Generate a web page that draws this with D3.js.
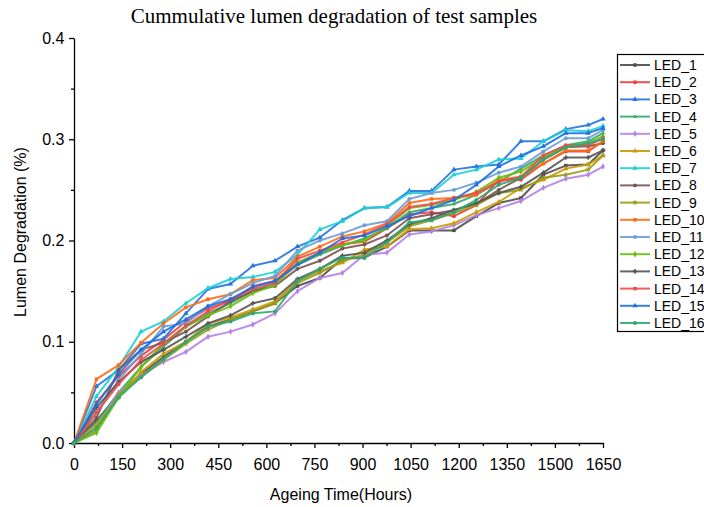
<!DOCTYPE html>
<html><head><meta charset="utf-8">
<script src="https://cdn.jsdelivr.net/npm/d3@7"></script>
<style>body{margin:0;background:#fff;} svg{display:block;}</style>
</head><body>
<svg id="c" width="704" height="507"></svg>
<script>
const hours = [0,70,139,209,279,349,418,488,558,627,697,767,837,906,976,1046,1115,1185,1255,1325,1394,1464,1534,1604,1650];
const seriesNames = ["LED_1","LED_2","LED_3","LED_4","LED_5","LED_6","LED_7","LED_8","LED_9","LED_10","LED_11","LED_12","LED_13","LED_14","LED_15","LED_16"];
const LED_1  = [0,0.022,0.048,0.068,0.085,0.100,0.115,0.122,0.130,0.138,0.155,0.163,0.182,0.183,0.194,0.210,0.210,0.210,0.224,0.237,0.242,0.265,0.274,0.275,0.289];
const LED_2  = [0,0.040,0.066,0.086,0.102,0.120,0.133,0.140,0.155,0.160,0.178,0.188,0.196,0.199,0.212,0.226,0.228,0.224,0.235,0.260,0.260,0.276,0.288,0.288,0.298];
const LED_3  = [0,0.056,0.072,0.098,0.103,0.128,0.152,0.157,0.175,0.180,0.194,0.203,0.220,0.232,0.233,0.249,0.249,0.270,0.273,0.275,0.298,0.298,0.310,0.314,0.320];
const LED_4  = [0,0.020,0.050,0.075,0.095,0.115,0.128,0.138,0.150,0.158,0.176,0.186,0.195,0.202,0.212,0.228,0.232,0.236,0.245,0.258,0.271,0.284,0.294,0.298,0.306];
const LED_5  = [0,0.015,0.050,0.067,0.080,0.090,0.105,0.110,0.117,0.128,0.150,0.163,0.168,0.186,0.188,0.206,0.209,0.215,0.225,0.232,0.239,0.252,0.261,0.265,0.273];
const LED_6  = [0,0.018,0.045,0.070,0.088,0.100,0.118,0.124,0.132,0.140,0.160,0.170,0.178,0.191,0.194,0.211,0.212,0.217,0.228,0.238,0.252,0.260,0.271,0.275,0.284];
const LED_7  = [0,0.046,0.075,0.110,0.120,0.138,0.153,0.162,0.164,0.169,0.186,0.211,0.219,0.232,0.233,0.247,0.247,0.265,0.270,0.280,0.281,0.298,0.309,0.308,0.313];
const LED_8  = [0,0.025,0.072,0.092,0.099,0.110,0.125,0.140,0.150,0.155,0.172,0.180,0.192,0.196,0.205,0.222,0.226,0.230,0.236,0.250,0.262,0.280,0.292,0.293,0.296];
const LED_9  = [0,0.012,0.048,0.065,0.082,0.098,0.112,0.122,0.130,0.138,0.158,0.168,0.180,0.186,0.198,0.214,0.220,0.227,0.235,0.247,0.250,0.262,0.265,0.270,0.284];
const LED_10 = [0,0.063,0.077,0.099,0.118,0.134,0.142,0.147,0.161,0.163,0.184,0.194,0.204,0.209,0.217,0.237,0.241,0.242,0.245,0.260,0.263,0.276,0.289,0.289,0.298];
const LED_11 = [0,0.030,0.062,0.088,0.115,0.118,0.135,0.147,0.158,0.165,0.190,0.200,0.207,0.215,0.219,0.241,0.247,0.250,0.257,0.267,0.273,0.288,0.301,0.301,0.309];
const LED_12 = [0,0.010,0.045,0.075,0.098,0.115,0.126,0.135,0.148,0.156,0.178,0.188,0.196,0.200,0.214,0.232,0.235,0.240,0.248,0.262,0.268,0.282,0.292,0.296,0.303];
const LED_13 = [0,0.035,0.060,0.080,0.092,0.105,0.118,0.126,0.138,0.143,0.162,0.172,0.185,0.188,0.200,0.216,0.222,0.230,0.237,0.247,0.253,0.267,0.282,0.282,0.289];
const LED_14 = [0,0.030,0.058,0.082,0.098,0.116,0.130,0.142,0.152,0.158,0.182,0.190,0.198,0.206,0.216,0.233,0.236,0.242,0.247,0.258,0.263,0.284,0.294,0.294,0.301];
const LED_15 = [0,0.038,0.068,0.092,0.110,0.122,0.135,0.142,0.154,0.160,0.176,0.188,0.202,0.205,0.214,0.224,0.232,0.240,0.255,0.273,0.284,0.293,0.306,0.306,0.311];
const LED_16 = [0,0.015,0.045,0.065,0.083,0.100,0.115,0.120,0.128,0.130,0.160,0.172,0.183,0.183,0.198,0.218,0.220,0.228,0.240,0.255,0.262,0.280,0.292,0.296,0.300];
const xTicks = [0,150,300,450,600,750,900,1050,1200,1350,1500,1650];
const yTicks = [0.0,0.1,0.2,0.3,0.4];
const colors = ["#4d4d4d","#f03c3c","#2474e0","#34a86c","#b482e6","#cc9a06","#1ccfd6","#7d5252","#9c9a14","#ff6a14","#6b9fd8","#6cbc0a","#555555","#f24a4a","#1e6fe0","#2ea870"];
const symbols = [d3.symbolSquare,d3.symbolCircle,d3.symbolTriangle,d3.symbolTriangle2,d3.symbolDiamond,d3.symbolTriangle,d3.symbolTriangle,d3.symbolCircle,d3.symbolStar,d3.symbolSquare,d3.symbolCircle,d3.symbolDiamond,d3.symbolCross,d3.symbolSquare,d3.symbolTriangle,d3.symbolCircle];

const allData = [LED_1,LED_2,LED_3,LED_4,LED_5,LED_6,LED_7,LED_8,LED_9,LED_10,LED_11,LED_12,LED_13,LED_14,LED_15,LED_16];
const series = seriesNames.map((n,i)=>({name:n, values:allData[i].map((v,j)=>({t:hours[j], v:v}))}));

const svg = d3.select("#c");
const x = d3.scaleLinear().domain([0,1650]).range([74,603]);
const y = d3.scaleLinear().domain([0,0.4]).range([443,38]);

// axes
const xAxis = d3.axisBottom(x).tickValues(xTicks).tickFormat(d3.format("d")).tickSize(5).tickSizeOuter(0);
const gx = svg.append("g").attr("transform","translate(0,443)").call(xAxis);
const xMinor = d3.axisBottom(x).tickValues(d3.range(75,1650,150)).tickFormat("").tickSize(3).tickSizeOuter(0);
svg.append("g").attr("transform","translate(0,443)").call(xMinor).select(".domain").remove();
const yAxis = d3.axisLeft(y).tickValues(yTicks).tickFormat(d3.format(".1f")).tickSize(5).tickSizeOuter(0);
const gy = svg.append("g").attr("transform","translate(74,0)").call(yAxis);
const yMinor = d3.axisLeft(y).tickValues([0.05,0.15,0.25,0.35]).tickFormat("").tickSize(3).tickSizeOuter(0);
svg.append("g").attr("transform","translate(74,0)").call(yMinor).select(".domain").remove();
svg.selectAll(".domain, .tick line").attr("stroke","#000").attr("stroke-width",1.3);
gx.selectAll("text").attr("font-family","Arial, 'Liberation Sans', sans-serif").attr("font-size",16).attr("fill","#000").attr("dy","1.2em");
gy.selectAll("text").attr("font-family","Arial, 'Liberation Sans', sans-serif").attr("font-size",16).attr("fill","#000").attr("dx","-0.1em");

// lines
const line = d3.line().x(d=>x(d.t)).y(d=>y(d.v));
const gl = svg.append("g");
series.forEach((s,i)=>{
  gl.append("path").datum(s.values).attr("d",line).attr("fill","none")
    .attr("stroke",colors[i]).attr("stroke-width",2).attr("stroke-opacity",0.9).attr("stroke-linejoin","round");
  gl.selectAll(null).data(s.values).enter().append("path")
    .attr("d",d3.symbol().type(symbols[i]).size(12))
    .attr("transform",d=>`translate(${x(d.t)},${y(d.v)})`)
    .attr("fill",colors[i]);
});

// title and axis labels
svg.append("text").attr("x",334).attr("y",23).attr("text-anchor","middle")
  .attr("font-family","'Times New Roman','Liberation Serif',serif").attr("font-size",21).text("Cummulative lumen degradation of test samples");
svg.append("text").attr("x",341).attr("y",500).attr("text-anchor","middle")
  .attr("font-family","Arial, 'Liberation Sans', sans-serif").attr("font-size",16).text("Ageing Time(Hours)");
svg.append("text").attr("transform","translate(26,232) rotate(-90)").attr("text-anchor","middle")
  .attr("font-family","Arial, 'Liberation Sans', sans-serif").attr("font-size",16).text("Lumen Degradation (%)");

// legend
const lg = svg.append("g");
lg.append("rect").attr("x",617.5).attr("y",54.5).attr("width",100).attr("height",277).attr("fill","#fff").attr("stroke","#000").attr("stroke-width",1.2);
series.forEach((s,i)=>{
  const yy = 65 + i*17.2;
  lg.append("line").attr("x1",620).attr("x2",650).attr("y1",yy).attr("y2",yy).attr("stroke",colors[i]).attr("stroke-width",2).attr("stroke-opacity",0.9);
  lg.append("path").attr("d",d3.symbol().type(symbols[i]).size(12)).attr("transform",`translate(635,${yy})`).attr("fill",colors[i]);
  lg.append("text").attr("x",654).attr("y",yy).attr("dy","0.36em").attr("font-family","Arial, 'Liberation Sans', sans-serif").attr("font-size",14).text(s.name);
});
</script>
</body></html>
